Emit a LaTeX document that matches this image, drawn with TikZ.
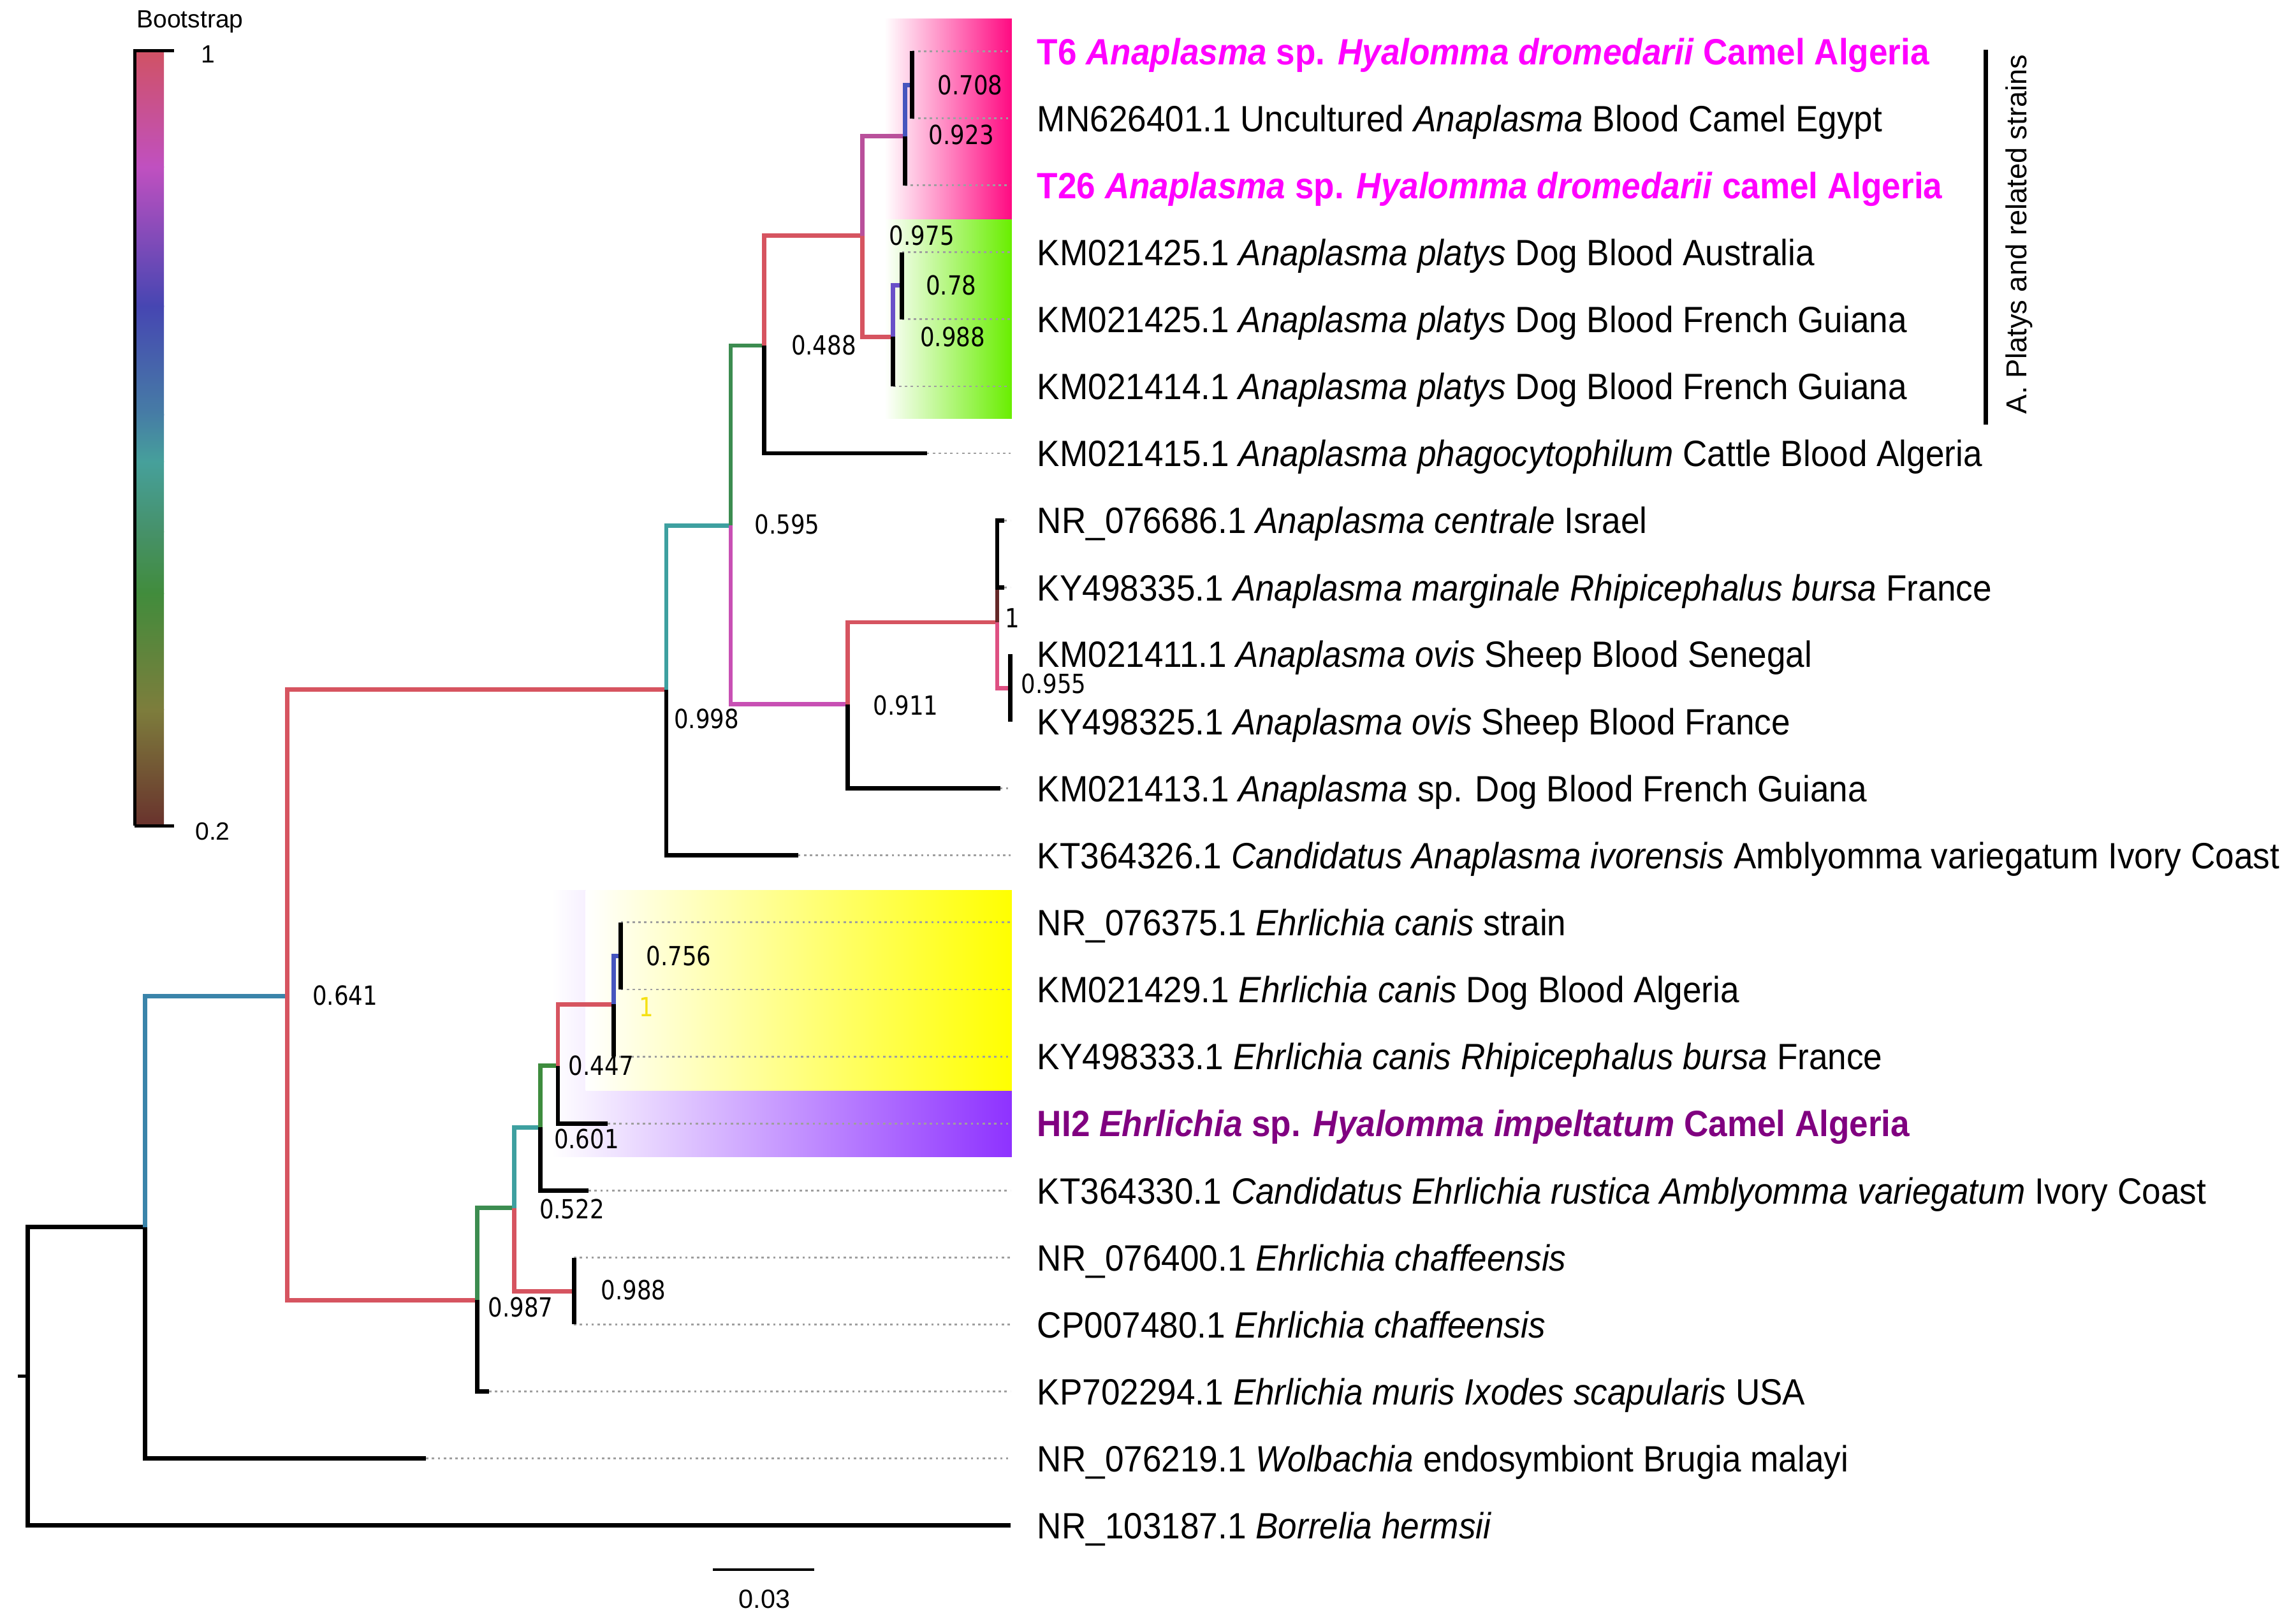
\documentclass[tikz,border=0pt]{standalone}
\usepackage{fontspec}
\setmainfont{Liberation Sans}
\newfontfamily\tipfont[FakeStretch=0.925]{Liberation Sans}
\newfontfamily\bsfont[FakeStretch=0.86]{DejaVu Sans}
\definecolor{bred}{RGB}{214,84,96}
\definecolor{bsteel}{RGB}{58,132,170}
\definecolor{bteal}{RGB}{62,160,160}
\definecolor{bgreen}{RGB}{60,140,80}
\definecolor{bgreenb}{RGB}{62,140,62}
\definecolor{bmag}{RGB}{200,80,180}
\definecolor{bmagb}{RGB}{185,80,155}
\definecolor{bblue}{RGB}{70,85,190}
\definecolor{bpurp}{RGB}{105,80,200}
\definecolor{bbrown}{RGB}{100,40,40}
\definecolor{bpink}{RGB}{222,80,130}
\definecolor{hlpink}{RGB}{255,10,130}
\definecolor{hlgreen}{RGB}{105,238,0}
\definecolor{hlyellow}{RGB}{255,255,0}
\definecolor{hlpurple}{RGB}{142,50,255}
\definecolor{tmag}{RGB}{255,0,255}
\definecolor{tpurp}{RGB}{128,0,128}
\definecolor{yel1}{RGB}{245,225,20}
\definecolor{cb0}{RGB}{208,82,100}
\definecolor{cb1}{RGB}{192,80,192}
\definecolor{cb2}{RGB}{70,70,178}
\definecolor{cb3}{RGB}{70,125,165}
\definecolor{cb4}{RGB}{70,160,155}
\definecolor{cb5}{RGB}{70,145,105}
\definecolor{cb6}{RGB}{65,140,60}
\definecolor{cb7}{RGB}{125,125,60}
\definecolor{cb8}{RGB}{105,50,45}
\begin{document}
\begin{tikzpicture}[x=0.5pt,y=-0.5pt,
  br/.style={line width=1.5pt},
  dotline/.style={gray!75,line width=0.6pt,dash pattern=on 0.8pt off 1.2pt},
  tip/.style={anchor=base west,inner sep=0pt,font=\tipfont\fontsize{12.5}{15}\selectfont},
  bs/.style={anchor=base west,inner sep=0pt,font=\bsfont\fontsize{9}{11}\selectfont},
  leg/.style={inner sep=0pt,font=\fontsize{8.5}{10}\selectfont}]
\useasboundingbox (0,0) rectangle (1568,1106.4);
% ---------- highlight boxes ----------
\shade[left color=white,right color=hlpink] (604,13) rectangle (691,150);
\shade[left color=white,right color=hlgreen] (604,150) rectangle (691,286);
\shade[left color=white,right color=hlpurple] (377,608) rectangle (691,790);
\shade[left color=white,right color=hlyellow] (400,608) rectangle (691,745);
% ---------- colour bar ----------
\shade[top color=cb0,bottom color=cb1] (93,34.5) rectangle (112,114.5);
\shade[top color=cb1,bottom color=cb2] (93,114) rectangle (112,209.5);
\shade[top color=cb2,bottom color=cb3] (93,209) rectangle (112,283.5);
\shade[top color=cb3,bottom color=cb4] (93,283) rectangle (112,315.5);
\shade[top color=cb4,bottom color=cb5] (93,315) rectangle (112,363.5);
\shade[top color=cb5,bottom color=cb6] (93,363) rectangle (112,405.5);
\shade[top color=cb6,bottom color=cb7] (93,405) rectangle (112,485);
\shade[top color=cb7,bottom color=cb8] (93,484.5) rectangle (112,564);
\draw[line width=1pt] (92,564) -- (92,34.5) -- (119,34.5);
\draw[line width=1pt] (92,564) -- (119,564);
\node[leg,anchor=west] (legt) at (93,15) {Bootstrap};
\node[leg,anchor=west] (leg1) at (137,37) {1};
\node[leg,anchor=west] (leg2) at (133,568) {0.2};
% ---------- coordinates ----------
\coordinate (dend) at (690,0);
\coordinate (R) at (19,940);
\coordinate (n1) at (99,838);
\coordinate (n2) at (196,680.5);
\coordinate (n3) at (455,471);
\coordinate (nE) at (326,888);
\coordinate (n4) at (499,359);
\coordinate (n5) at (522,236);
\coordinate (n6) at (579,481);
\coordinate (n7) at (589,161);
\coordinate (n8) at (618,93);
\coordinate (n9) at (610,230);
\coordinate (n10) at (623,58);
\coordinate (n11) at (616,195);
\coordinate (n12) at (681,425);
\coordinate (n13) at (681,378);
\coordinate (n14) at (690,470);
\coordinate (n15) at (351,825);
\coordinate (n16) at (369,770);
\coordinate (n17) at (392,882);
\coordinate (n18) at (381,728);
\coordinate (n19) at (419,686);
\coordinate (n20) at (424,653);
\coordinate (t1) at (623,35.0);
\coordinate (t2) at (623,80.8);
\coordinate (t3) at (618,126.5);
\coordinate (t4) at (616,172.3);
\coordinate (t5) at (616,218.1);
\coordinate (t6) at (610,263.9);
\coordinate (t7) at (633,309.6);
\coordinate (t8) at (686,355.4);
\coordinate (t9) at (686,401.2);
\coordinate (t10) at (690,446.9);
\coordinate (t11) at (690,492.7);
\coordinate (t12) at (683,538.5);
\coordinate (t13) at (545,584.2);
\coordinate (t14) at (424,630.0);
\coordinate (t15) at (424,675.8);
\coordinate (t16) at (419,721.6);
\coordinate (t17) at (415,767.3);
\coordinate (t18) at (402,813.1);
\coordinate (t19) at (392,858.9);
\coordinate (t20) at (392,904.6);
\coordinate (t21) at (334,950.4);
\coordinate (t22) at (291,996.2);
\coordinate (t23) at (690,1041.9);
% ---------- dotted leaders ----------
\foreach \t in {t1,t2,t3,t4,t5,t6,t7,t8,t9,t12,t13,t14,t15,t16,t17,t18,t19,t20,t21,t22}
  \draw[dotline] (\t) -- (\t -| dend);
% ---------- branches ----------
\draw[br,line width=1pt] (R) ++(-7,0) -- (R);
\draw[br] (R) |- (n1);
\draw[br] (R) |- (t23);
\draw[br,bsteel] (n1) |- (n2);
\draw[br] (n1) |- (t22);
\draw[br,bred] (n2) |- (n3);
\draw[br,bred] (n2) |- (nE);
\draw[br,bteal] (n3) |- (n4);
\draw[br] (n3) |- (t13);
\draw[br,bgreen] (n4) |- (n5);
\draw[br,bmag] (n4) |- (n6);
\draw[br,bred] (n5) |- (n7);
\draw[br] (n5) |- (t7);
\draw[br,bmagb] (n7) |- (n8);
\draw[br,bred] (n7) |- (n9);
\draw[br,bblue] (n8) |- (n10);
\draw[br] (n8) |- (t3);
\draw[br] (n10) |- (t1);
\draw[br] (n10) |- (t2);
\draw[br,bpurp] (n9) |- (n11);
\draw[br] (n9) |- (t6);
\draw[br] (n11) |- (t4);
\draw[br] (n11) |- (t5);
\draw[br,bred] (n6) |- (n12);
\draw[br] (n6) |- (t12);
\draw[br,bbrown] (n12) |- (n13);
\draw[br,bpink] (n12) |- (n14);
\draw[br] (n13) |- (t8);
\draw[br] (n13) |- (t9);
\draw[br] (n14) |- (t10);
\draw[br] (n14) |- (t11);
\draw[br,bgreen] (nE) |- (n15);
\draw[br] (nE) |- (t21);
\draw[br,bteal] (n15) |- (n16);
\draw[br,bred] (n15) |- (n17);
\draw[br] (n17) |- (t19);
\draw[br] (n17) |- (t20);
\draw[br,bgreenb] (n16) |- (n18);
\draw[br] (n16) |- (t18);
\draw[br,bred] (n18) |- (n19);
\draw[br] (n18) |- (t17);
\draw[br,bblue] (n19) |- (n20);
\draw[br] (n19) |- (t16);
\draw[br] (n20) |- (t14);
\draw[br] (n20) |- (t15);
% ---------- bootstrap values ----------
\node[bs] (b641) at (213,686.5) {0.641};
\node[bs] (b998) at (460,497.5) {0.998};
\node[bs] (b595) at (515,364.5) {0.595};
\node[bs] (b488) at (540,242.5) {0.488};
\node[bs] (b911) at (596,488.5) {0.911};
\node[bs] (b975) at (607,167.5) {0.975};
\node[bs] (b708) at (640,64.5) {0.708};
\node[bs] (b923) at (634,98.5) {0.923};
\node[bs] (b78) at (632,201.5) {0.78};
\node[bs] (b988a) at (628,236.5) {0.988};
\node[bs] (b1a) at (686,428.5) {1};
\node[bs] (b955) at (697,473.5) {0.955};
\node[bs] (b756) at (441,659.5) {0.756};
\node[bs,text=yel1] (b1b) at (436,694.5) {1};
\node[bs] (b447) at (388,734.5) {0.447};
\node[bs] (b601) at (378,784.5) {0.601};
\node[bs] (b522) at (368,832.5) {0.522};
\node[bs] (b988b) at (410,887.5) {0.988};
\node[bs] (b987) at (333,899.5) {0.987};
% ---------- tip labels ----------
\node[tip,text=tmag] (l1) at (708,44.0) {\bfseries T6 \textit{Anaplasma} sp. \textit{Hyalomma dromedarii} Camel Algeria};
\node[tip] (l2) at (708,89.8) {MN626401.1 Uncultured \textit{Anaplasma} Blood Camel Egypt};
\node[tip,text=tmag] (l3) at (708,135.5) {\bfseries T26 \textit{Anaplasma} sp. \textit{Hyalomma dromedarii} camel Algeria};
\node[tip] (l4) at (708,181.3) {KM021425.1 \textit{Anaplasma platys} Dog Blood Australia};
\node[tip] (l5) at (708,227.1) {KM021425.1 \textit{Anaplasma platys} Dog Blood French Guiana};
\node[tip] (l6) at (708,272.9) {KM021414.1 \textit{Anaplasma platys} Dog Blood French Guiana};
\node[tip] (l7) at (708,318.6) {KM021415.1 \textit{Anaplasma phagocytophilum} Cattle Blood Algeria};
\node[tip] (l8) at (708,364.4) {NR\_076686.1 \textit{Anaplasma centrale} Israel};
\node[tip] (l9) at (708,410.2) {KY498335.1 \textit{Anaplasma marginale Rhipicephalus bursa} France};
\node[tip] (l10) at (708,455.9) {KM021411.1 \textit{Anaplasma ovis} Sheep Blood Senegal};
\node[tip] (l11) at (708,501.7) {KY498325.1 \textit{Anaplasma ovis} Sheep Blood France};
\node[tip] (l12) at (708,547.5) {KM021413.1 \textit{Anaplasma} sp. Dog Blood French Guiana};
\node[tip] (l13) at (708,593.2) {KT364326.1 \textit{Candidatus Anaplasma ivorensis} Amblyomma variegatum Ivory Coast};
\node[tip] (l14) at (708,639.0) {NR\_076375.1 \textit{Ehrlichia canis} strain};
\node[tip] (l15) at (708,684.8) {KM021429.1 \textit{Ehrlichia canis} Dog Blood Algeria};
\node[tip] (l16) at (708,730.6) {KY498333.1 \textit{Ehrlichia canis Rhipicephalus bursa} France};
\node[tip,text=tpurp] (l17) at (708,776.3) {\bfseries HI2 \textit{Ehrlichia} sp. \textit{Hyalomma impeltatum} Camel Algeria};
\node[tip] (l18) at (708,822.1) {KT364330.1 \textit{Candidatus Ehrlichia rustica Amblyomma variegatum} Ivory Coast};
\node[tip] (l19) at (708,867.9) {NR\_076400.1 \textit{Ehrlichia chaffeensis}};
\node[tip] (l20) at (708,913.6) {CP007480.1 \textit{Ehrlichia chaffeensis}};
\node[tip] (l21) at (708,959.4) {KP702294.1 \textit{Ehrlichia muris Ixodes scapularis} USA};
\node[tip] (l22) at (708,1005.2) {NR\_076219.1 \textit{Wolbachia} endosymbiont Brugia malayi};
\node[tip] (l23) at (708,1050.9) {NR\_103187.1 \textit{Borrelia hermsii}};
% ---------- clade bracket ----------
\coordinate (brt) at (1356,34);
\coordinate (brb) at (1356,290);
\draw[line width=1.5pt] (brt) -- (brb);
\node[rotate=90,inner sep=0pt,font=\fontsize{9.85}{12}\selectfont] (brl) at (1379,160) {A. Platys and related strains};
% ---------- scale bar ----------
\coordinate (sbl) at (487,1072);
\coordinate (sbr) at (556,1072);
\draw[line width=1pt] (sbl) -- (sbr);
\node[inner sep=0pt,font=\fontsize{9}{11}\selectfont] (sbt) at (522,1092) {0.03};
\end{tikzpicture}
\end{document}
